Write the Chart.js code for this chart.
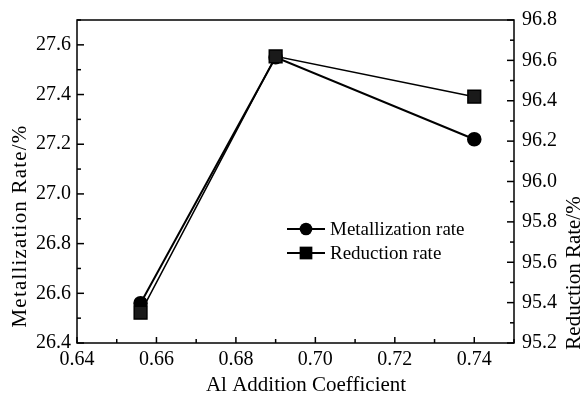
<!DOCTYPE html>
<html>
<head>
<meta charset="utf-8">
<script src="https://cdn.jsdelivr.net/npm/chart.js@4/dist/chart.umd.min.js"></script>
<style>
  html, body { margin: 0; padding: 0; background: #fff; }
  #wrap { width: 583px; height: 398px; }
</style>
</head>
<body>
<div id="wrap"><canvas id="rateChart"></canvas></div>
<script>
// Al addition coefficient vs metallization / reduction rate
const alCoef = [0.656, 0.69, 0.74];
const metallization = [26.56, 27.55, 27.22];
const reduction = [95.35, 96.62, 96.42];

const seriesNames = ['Metallization rate', 'Reduction rate'];
const xTitle = 'Al Addition Coefficient';
const leftTitle = 'Metallization Rate/%';
const rightTitle = 'Reduction Rate/%';

const FONT = '"Liberation Serif", "Times New Roman", serif';

function toPoints(ys) {
    return alCoef.map((x, i) => ({ x: x, y: ys[i] }));
}

// label only every second step (0.02 / 0.2), the rest are minor ticks
function evenLabel(step, digits) {
    return function(value) {
        const n = Math.round(value / step);
        return n % 2 === 0 ? value.toFixed(digits) : '';
    };
}

function drawText(ctx, text, x, y, size, angle, spacing) {
    ctx.save();
    ctx.translate(x, y);
    ctx.rotate(angle);
    ctx.font = size + 'px ' + FONT;
    ctx.letterSpacing = (spacing || 0) + 'px';
    ctx.fillStyle = '#000';
    ctx.textAlign = 'center';
    ctx.textBaseline = 'middle';
    ctx.fillText(text, 0, 0);
    ctx.restore();
}

// box around the plot, inward tick marks and axis titles
const frameTicks = {
    id: 'frameTicks',
    afterDraw(chart) {
        const { ctx, chartArea: a, scales } = chart;
        ctx.save();
        ctx.strokeStyle = '#000';
        ctx.lineWidth = 1.5;
        ctx.strokeRect(a.left, a.top, a.right - a.left, a.bottom - a.top);

        scales.x.ticks.forEach(t => {
            const px = scales.x.getPixelForValue(t.value);
            const major = Math.round(t.value / 0.01) % 2 === 0;
            ctx.beginPath();
            ctx.moveTo(px, a.bottom);
            ctx.lineTo(px, a.bottom - (major ? 6 : 4));
            ctx.stroke();
        });
        scales.y.ticks.forEach(t => {
            const py = scales.y.getPixelForValue(t.value);
            const major = Math.round(t.value / 0.1) % 2 === 0;
            ctx.beginPath();
            ctx.moveTo(a.left, py);
            ctx.lineTo(a.left + (major ? 7 : 4), py);
            ctx.stroke();
        });
        scales.y2.ticks.forEach(t => {
            const py = scales.y2.getPixelForValue(t.value);
            const major = Math.round(t.value / 0.1) % 2 === 0;
            ctx.beginPath();
            ctx.moveTo(a.right, py);
            ctx.lineTo(a.right - (major ? 7 : 4), py);
            ctx.stroke();
        });
        ctx.restore();

        drawText(ctx, xTitle, 306, 385, 21, 0, 0);
        drawText(ctx, leftTitle, 20, 226, 21, -Math.PI / 2, 1.2);
        drawText(ctx, rightTitle, 574, 273, 21, -Math.PI / 2, 0);
    }
};

// legend box inside the plot
const innerLegend = {
    id: 'innerLegend',
    afterDraw(chart) {
        const { ctx } = chart;
        const x0 = 287, x1 = 325, xm = 306, xt = 330;
        const rows = [229, 253];
        ctx.save();
        ctx.font = '19px ' + FONT;
        ctx.textBaseline = 'middle';
        ctx.fillStyle = '#000';
        chart.data.datasets.forEach((ds, i) => {
            const y = rows[i];
            ctx.strokeStyle = '#000';
            ctx.lineWidth = 2;
            ctx.beginPath();
            ctx.moveTo(x0, y);
            ctx.lineTo(x1, y);
            ctx.stroke();
            ctx.beginPath();
            if (ds.pointStyle === 'circle') {
                ctx.arc(xm, y, ds.pointRadius, 0, Math.PI * 2);
            } else {
                const h = ds.pointRadius * Math.SQRT1_2;
                ctx.rect(xm - h, y - h, 2 * h, 2 * h);
            }
            ctx.fill();
            ctx.fillText(ds.label, xt, y + 1);
        });
        ctx.restore();
    }
};

const ctx = document.getElementById('rateChart').getContext('2d');
const chart = new Chart(ctx, {
    type: 'scatter',
    data: {
        datasets: [{
            label: seriesNames[0],
            data: toPoints(metallization),
            yAxisID: 'y',
            showLine: true,
            borderColor: '#000',
            backgroundColor: '#000',
            borderWidth: 2,
            pointStyle: 'circle',
            pointRadius: 6.3,
            pointHoverRadius: 6.3,
            order: 1
        }, {
            label: seriesNames[1],
            data: toPoints(reduction),
            yAxisID: 'y2',
            showLine: true,
            borderColor: '#000',
            backgroundColor: '#1a1a1a',
            borderWidth: 1.5,
            pointStyle: 'rect',
            pointRadius: 9,
            pointHoverRadius: 9,
            order: 0
        }]
    },
    options: {
        responsive: true,
        maintainAspectRatio: false,
        animation: false,
        layout: { padding: { top: 17, left: 0, right: 0, bottom: 0 } },
        plugins: {
            legend: { display: false },
            tooltip: { enabled: false }
        },
        scales: {
            x: {
                type: 'linear',
                min: 0.64,
                max: 0.75,
                afterFit: s => { s.height = 55; },
                grid: { drawOnChartArea: false, drawTicks: false },
                border: { display: false },
                ticks: {
                    stepSize: 0.01,
                    padding: 5,
                    color: '#000',
                    font: { family: FONT, size: 20 },
                    maxRotation: 0,
                    autoSkip: false,
                    callback: evenLabel(0.01, 2)
                }
            },
            y: {
                type: 'linear',
                position: 'left',
                min: 26.4,
                max: 27.7,
                afterFit: s => { s.width = 77; },
                grid: { drawOnChartArea: false, drawTicks: false },
                border: { display: false },
                ticks: {
                    stepSize: 0.1,
                    padding: 6,
                    color: '#000',
                    font: { family: FONT, size: 20 },
                    autoSkip: false,
                    callback: evenLabel(0.1, 1)
                }
            },
            y2: {
                type: 'linear',
                position: 'right',
                min: 95.2,
                max: 96.8,
                afterFit: s => { s.width = 69; },
                grid: { drawOnChartArea: false, drawTicks: false },
                border: { display: false },
                ticks: {
                    stepSize: 0.1,
                    padding: 8,
                    color: '#000',
                    font: { family: FONT, size: 20 },
                    autoSkip: false,
                    callback: evenLabel(0.1, 1)
                }
            }
        }
    },
    plugins: [frameTicks, innerLegend]
});
</script>
</body>
</html>
